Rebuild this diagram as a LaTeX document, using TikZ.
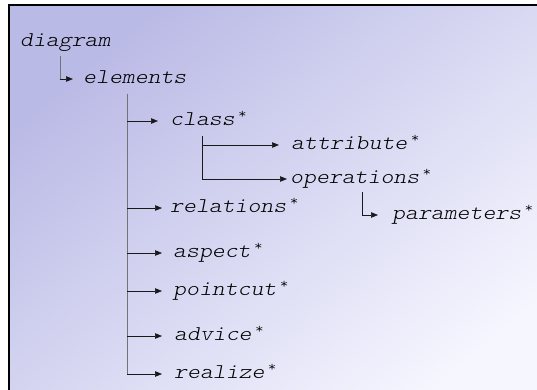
\documentclass[tikz,border=0pt]{standalone}
\usepackage{fontspec}
\newfontfamily\lbfont{Latin Modern Mono Light}[FakeStretch=1.17]
\usetikzlibrary{arrows.meta}
\definecolor{bgA}{RGB}{186,186,230}
\definecolor{bgB}{RGB}{246,246,255}
\newcommand{\starmark}{\hspace{3.5pt}\raisebox{7pt}{\fontsize{14}{14}\selectfont\upshape *}}
\tikzset{
 lbl/.style={anchor=west, inner sep=0pt, text height=9pt, text depth=0pt, font=\lbfont\itshape\fontsize{21}{24}\selectfont},
 link/.style={draw=black!90, line width=0.7pt, -{Triangle[length=7pt,width=5.5pt]}},
 trunk/.style={draw=black!55, line width=0.8pt},
}
\begin{document}
\begin{tikzpicture}[x=1pt,y=-1pt]
\clip (0,0) rectangle (537,390);
\fill[white] (0,0) rectangle (537,390);
\shade[top color=bgA, bottom color=bgB, shading angle=40] (8.5,5.5) rectangle (560,410);
\draw[line width=2pt] (8.5,410) -- (8.5,5.5) -- (560,5.5);

\node[lbl] (diagram) at (20,42) {diagram};
\node[lbl] (elements) at (83,79) {elements};
\node[lbl] (class) at (170,121) {class\starmark};
\node[lbl] (attribute) at (291,145) {attribute\starmark};
\node[lbl] (operations) at (290,179) {operations\starmark};
\node[lbl] (parameters) at (392,215) {parameters\starmark};
\node[lbl] (relations) at (170,208) {relations\starmark};
\node[lbl] (aspect) at (173,253) {aspect\starmark};
\node[lbl] (pointcut) at (173,291) {pointcut\starmark};
\node[lbl] (advice) at (174,336) {advice\starmark};
\node[lbl] (realize) at (174,374) {realize\starmark};

\coordinate (d0) at ([xshift=40pt,yshift=-9pt]diagram.south west);
\draw[trunk] (d0) -- (d0 |- elements.west);
\draw[link] (d0 |- elements.west) -- ([xshift=-10pt]elements.west);

\coordinate (e0) at ([xshift=44pt,yshift=-10pt]elements.south west);
\draw[trunk] (e0) -- (e0 |- realize.west);
\draw[link] (e0 |- class.west) -- ([xshift=-12pt]class.west);
\draw[link] (e0 |- relations.west) -- ([xshift=-8pt]relations.west);
\draw[link] (e0 |- aspect.west) -- ([xshift=-11pt]aspect.west);
\draw[link] (e0 |- pointcut.west) -- ([xshift=-11pt]pointcut.west);
\draw[link] (e0 |- advice.west) -- ([xshift=-12pt]advice.west);
\draw[link] (e0 |- realize.west) -- ([xshift=-12pt]realize.west);

\coordinate (c0) at ([xshift=32pt,yshift=-10pt]class.south west);
\draw[link] (c0) |- ([xshift=-3pt]operations.west);
\draw[link] (c0 |- attribute.west) -- ([xshift=-12pt]attribute.west);

\coordinate (o0) at ([xshift=72pt,yshift=-8.5pt]operations.south west);
\draw[link] (o0) |- ([xshift=-14pt]parameters.west);
\end{tikzpicture}
\end{document}
